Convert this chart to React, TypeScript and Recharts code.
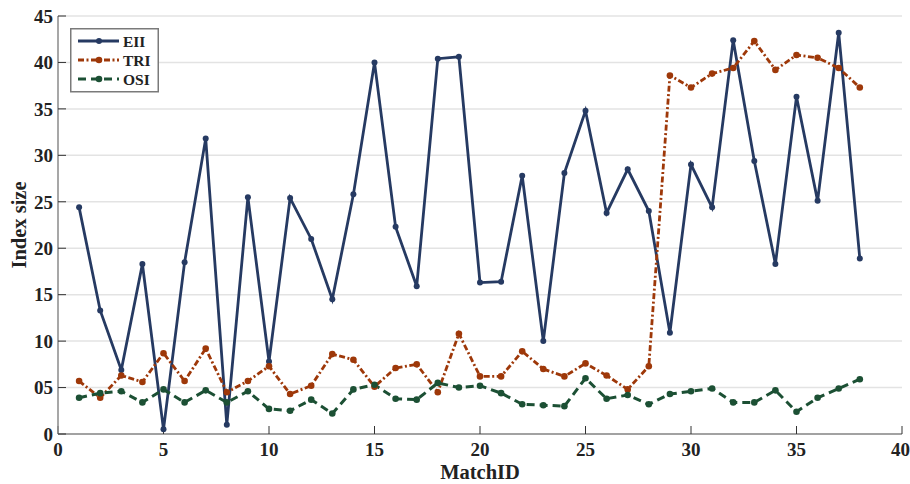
import { LineChart, Line, XAxis, YAxis, CartesianGrid, Legend } from "recharts";

// MatchID 1..38
const matchIds = [
  1, 2, 3, 4, 5, 6, 7, 8, 9, 10, 11, 12, 13, 14, 15, 16, 17, 18, 19,
  20, 21, 22, 23, 24, 25, 26, 27, 28, 29, 30, 31, 32, 33, 34, 35, 36, 37, 38,
];

const eiiValues = [
  24.4, 13.3, 6.9, 18.3, 0.5, 18.5, 31.8, 1.0, 25.5, 7.8, 25.4, 21.0, 14.5,
  25.8, 40.0, 22.3, 15.9, 40.4, 40.6, 16.3, 16.4, 27.8, 10.0, 28.1, 34.8,
  23.8, 28.5, 24.0, 10.9, 29.0, 24.4, 42.4, 29.4, 18.3, 36.3, 25.1, 43.2, 18.9,
];

const triValues = [
  5.7, 3.9, 6.3, 5.6, 8.7, 5.7, 9.2, 4.5, 5.7, 7.3, 4.3, 5.2, 8.6, 8.0, 5.1,
  7.1, 7.5, 4.5, 10.8, 6.2, 6.2, 8.9, 7.0, 6.2, 7.6, 6.3, 4.8, 7.3, 38.6,
  37.3, 38.8, 39.4, 42.3, 39.2, 40.8, 40.5, 39.4, 37.3,
];

const osiValues = [
  3.9, 4.4, 4.6, 3.4, 4.8, 3.4, 4.7, 3.4, 4.6, 2.7, 2.5, 3.7, 2.2, 4.8, 5.3,
  3.8, 3.7, 5.5, 5.0, 5.2, 4.4, 3.2, 3.1, 3.0, 6.0, 3.8, 4.2, 3.2, 4.3, 4.6,
  4.9, 3.4, 3.4, 4.7, 2.4, 3.9, 4.9, 5.9,
];

const xTicks = [0, 5, 10, 15, 20, 25, 30, 35, 40];
const yTicks = [0, 5, 10, 15, 20, 25, 30, 35, 40, 45];
const yTickLabels = ["0", "05", "10", "15", "20", "25", "30", "35", "40", "45"];

const seriesNames = ["EII", "TRI", "OSI"];

const data = matchIds.map((id, i) => ({
  id,
  EII: eiiValues[i],
  TRI: triValues[i],
  OSI: osiValues[i],
}));

const FONT = "'Liberation Serif', 'Times New Roman', serif";
const COLORS: Record<string, string> = {
  EII: "#263a62",
  TRI: "#9e3809",
  OSI: "#1c5034",
};
const DASHES: Record<string, string | undefined> = {
  EII: undefined,
  TRI: "6 2.5 2 2.5",
  OSI: "8 5",
};
const WIDTHS: Record<string, number> = { EII: 2.8, TRI: 2.8, OSI: 3 };
const DOT_R: Record<string, number> = { EII: 3, TRI: 3.3, OSI: 3.3 };

const tickStyle = { fontFamily: FONT, fontWeight: 700, fontSize: 19, fill: "#222" };

// legend drawn as a boxed key in the upper-left of the plot
const LegendBox = () => (
  <svg width={90} height={66} style={{ display: "block" }}>
    <rect x={0.75} y={0.75} width={87.5} height={63} fill="#fff" stroke="#7a7a7a" strokeWidth={1.5} />
    {seriesNames.map((name, i) => {
      const y = 13 + i * 19;
      return (
        <g key={name}>
          <line
            x1={8}
            x2={49}
            y1={y}
            y2={y}
            stroke={COLORS[name]}
            strokeWidth={WIDTHS[name]}
            strokeDasharray={DASHES[name]}
          />
          <circle cx={29} cy={y} r={DOT_R[name]} fill={COLORS[name]} />
          <text
            x={53}
            y={y + 5.5}
            fontFamily={FONT}
            fontWeight={700}
            fontSize={15.5}
            fill="#222"
          >
            {name}
          </text>
        </g>
      );
    })}
  </svg>
);

export default function App() {
  return (
    <div style={{ position: "absolute", left: 0, top: 0, width: 910, height: 484, background: "#fff" }}>
      <LineChart width={910} height={484} data={data} margin={{ top: 16, right: 8, bottom: 20, left: 0 }}>
        <CartesianGrid vertical={false} stroke="#e3e3e3" strokeWidth={1.5} />
        <XAxis
          dataKey="id"
          type="number"
          domain={[0, 40]}
          ticks={xTicks}
          height={30}
          tickSize={-8}
          tickMargin={17}
          stroke="#8a8a8a"
          strokeWidth={1.5}
          tickLine={{ stroke: "#333", strokeWidth: 1 }}
          tick={tickStyle}
          label={{
            value: "MatchID",
            position: "insideBottom",
            offset: -15,
            style: { fontFamily: FONT, fontWeight: 700, fontSize: 20.5, fill: "#222" },
          }}
        />
        <YAxis
          type="number"
          domain={[0, 45]}
          ticks={yTicks}
          width={58}
          tickSize={-8}
          tickMargin={13}
          stroke="#8a8a8a"
          strokeWidth={1.5}
          tickLine={{ stroke: "#333", strokeWidth: 1 }}
          tick={tickStyle}
          tickFormatter={(v: number) => yTickLabels[yTicks.indexOf(v)]}
          label={{
            value: "Index size",
            angle: -90,
            position: "insideLeft",
            offset: 19,
            style: { fontFamily: FONT, fontWeight: 700, fontSize: 20.5, fill: "#222", textAnchor: "middle" },
          }}
        />
        <Legend
          layout="horizontal"
          verticalAlign="middle"
          align="center"
          wrapperStyle={{ left: 70, top: 28, width: 90, height: 66 }}
          content={() => <LegendBox />}
        />
        {seriesNames.map((name) => (
          <Line
            key={name}
            type="linear"
            dataKey={name}
            stroke={COLORS[name]}
            strokeWidth={WIDTHS[name]}
            strokeDasharray={DASHES[name]}
            dot={{ r: DOT_R[name], fill: COLORS[name], stroke: COLORS[name], strokeWidth: 0, strokeDasharray: "" }}
            activeDot={false}
            isAnimationActive={false}
          />
        ))}
      </LineChart>
    </div>
  );
}
